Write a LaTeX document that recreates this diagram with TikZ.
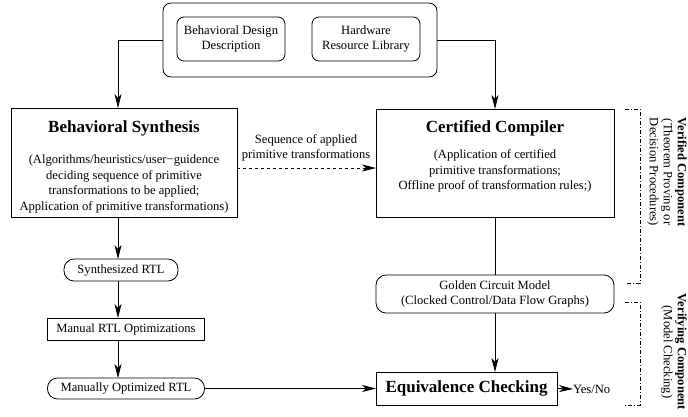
\documentclass[tikz,border=0pt]{standalone}
\usepackage{fontspec}
\setmainfont{Liberation Serif}
\usetikzlibrary{arrows.meta}
\begin{document}
\begin{tikzpicture}[x=1pt,y=-1pt,
  every node/.style={inner sep=0pt,outer sep=0pt,font=\fontsize{12.6}{15.5}\selectfont},
  sq/.style={draw,line width=0.8pt,rectangle,align=center},
  rbox/.style={draw,line width=0.8pt,rectangle,rounded corners=8pt,align=center},
  pill/.style={draw,line width=0.8pt,rectangle,rounded corners=10pt,align=center},
  title/.style={font=\fontsize{17}{20}\selectfont\bfseries},
  arr/.style={line width=0.8pt,-{Stealth[length=14pt,width=7pt,inset=4pt]}},
  ln/.style={line width=0.8pt},
  bracket/.style={line width=0.6pt,dash pattern=on 4pt off 2pt on 1pt off 2pt},
  side/.style={rotate=-90,align=center}]
\useasboundingbox (0,0) rectangle (688,416);
% top group
\node[rbox,minimum width=274pt,minimum height=74pt] (outer) at (300,40) {};
\node[rbox,minimum width=108pt,minimum height=44pt,rounded corners=7pt] (bdd) at (231,39) {Behavioral Design\\Description};
\node[rbox,minimum width=108pt,minimum height=44pt,rounded corners=7pt] (hrl) at (366,39) {Hardware\\Resource Library};
% main boxes
\node[sq,minimum width=226pt,minimum height=109pt] (bs) at (124,162.5) {};
\node[title] (bst) at (124,128) {Behavioral Synthesis};
\node[align=center] (bsb) at (124,184) {(Algorithms/heuristics/user\textminus guidence\\deciding sequence of primitive\\transformations to be applied;\\Application of primitive transformations)};
\node[sq,minimum width=238pt,minimum height=108pt] (cc) at (495,163) {};
\node[title] (cct) at (495,128) {Certified Compiler};
\node[align=center] (ccb) at (495,171) {(Application of certified\\primitive transformations;\\Offline proof of transformation rules;)};
% left column
\node[pill,minimum width=114pt,minimum height=22pt] (srtl) at (121,270) {Synthesized RTL};
\node[sq,minimum width=157pt,minimum height=22pt] (mro) at (126,329) {Manual RTL Optimizations};
\node[pill,minimum width=157pt,minimum height=21pt] (mortl) at (126,388.5) {Manually Optimized RTL};
% right column
\node[rbox,minimum width=238pt,minimum height=38pt,rounded corners=10pt] (gcm) at (495,294) {Golden Circuit Model\\(Clocked Control/Data Flow Graphs)};
\node[sq,minimum width=181pt,minimum height=33pt,font=\fontsize{17}{20}\selectfont\bfseries] (ec) at (466.5,388.5) {Equivalence Checking};
\node[anchor=west] (yn) at (573,389) {Yes/No};
% label
\node[align=center] (seq) at (306,148) {Sequence of applied\\primitive transformations};
% connectors
\coordinate (lx) at (118,40);
\coordinate (rx) at (495,40);
\coordinate (dy) at (0,168);
\draw[arr] (outer.west) -- (lx) -- (lx |- bs.north);
\draw[arr] (outer.east) -- (rx) -- (cc.north);
\draw[arr] (bs.south -| lx) -- (srtl.north -| lx);
\draw[arr] (srtl.south -| lx) -- (mro.north -| lx);
\draw[arr] (mro.south -| lx) -- (mortl.north -| lx);
\draw[arr] (mortl.east) -- (mortl.east -| ec.west);
\draw[ln] (cc.south) -- (gcm.north);
\draw[arr] (gcm.south) -- (gcm.south |- ec.north);
\draw[arr] (ec.east) -- (yn.west);
\draw[arr,dashed] (bs.east |- dy) -- (cc.west |- dy);
% brackets
\coordinate (b1a) at (625,109);
\coordinate (b1b) at (640,109);
\coordinate (b1c) at (640,283);
\coordinate (b1d) at (625,283);
\coordinate (b2a) at (625,302);
\coordinate (b2b) at (640,302);
\coordinate (b2c) at (640,405);
\coordinate (b2d) at (625,405);
\draw[bracket] (b1a) -- (b1b) -- (b1c) -- (b1d);
\draw[bracket] (b2a) -- (b2b) -- (b2c) -- (b2d);
% side labels
\node[side,font=\fontsize{12.6}{15.5}\selectfont\bfseries] (vc1) at (681,172) {Verified Component};
\node[side] (vc2) at (667,172) {(Theorem Proving or};
\node[side] (vc3) at (653,172) {Decision Procedures)};
\node[side,font=\fontsize{12.6}{15.5}\selectfont\bfseries] (vg1) at (681,352) {Verifying Component};
\node[side] (vg2) at (667,352) {(Model Checking)};
\end{tikzpicture}
\end{document}
